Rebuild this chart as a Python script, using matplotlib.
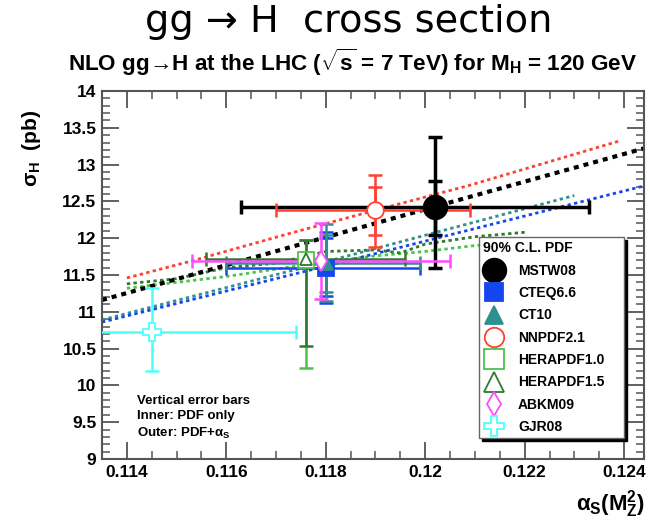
import numpy as np
import matplotlib
matplotlib.use("Agg")
import matplotlib.pyplot as plt
from matplotlib.lines import Line2D
from matplotlib.ticker import MultipleLocator, FuncFormatter

plt.rcParams['font.family'] = ['Liberation Sans', 'DejaVu Sans']
plt.rcParams['font.weight'] = 'bold'
plt.rcParams['mathtext.fontset'] = 'custom'
plt.rcParams['mathtext.rm'] = 'Liberation Sans:bold'
plt.rcParams['mathtext.it'] = 'Liberation Sans:bold'
plt.rcParams['mathtext.bf'] = 'Liberation Sans:bold'

# ---------------- data ----------------
pdf_names = ['MSTW08', 'CTEQ6.6', 'CT10', 'NNPDF2.1', 'HERAPDF1.0', 'HERAPDF1.5', 'ABKM09', 'GJR08']
pdf_colors = ['#000000', '#1446f0', '#2f9090', '#ff4032', '#4cc44c', '#2e7a2e', '#ff4cff', '#4cffff']
pdf_markers = ['o', 's', '^', 'o', 's', '^', 'd', 'P']
pdf_filled = [True, True, True, False, False, False, False, False]

alphas_central = [0.1202, 0.1180, 0.1180, 0.1190, 0.1176, 0.1176, 0.1179, 0.1145]
sigma_central = [12.42, 11.60, 11.66, 12.38, 11.70, 11.72, 11.69, 10.72]
alphas_lo = [0.1163, 0.1160, 0.1160, 0.1170, np.nan, 0.1156, 0.1153, 0.1116]
alphas_hi = [0.1233, 0.1199, 0.1199, 0.1209, np.nan, 0.1196, 0.1205, 0.1174]
sigma_outer_lo = [11.60, 11.12, 11.15, 11.88, 10.24, 10.53, 11.17, 10.19]
sigma_outer_hi = [13.37, 12.08, 12.19, 12.86, 11.97, 11.98, 12.20, 11.33]
sigma_inner_lo = [12.04, 11.22, 11.27, 12.05, np.nan, np.nan, np.nan, np.nan]
sigma_inner_hi = [12.78, 12.00, 12.05, 12.69, np.nan, np.nan, np.nan, np.nan]

# dotted curves: sigma vs alpha_s for each PDF
curve_mstw_a = [0.1135, 0.1202, 0.1244]
curve_mstw_s = [11.16, 12.43, 13.22]
curve_cteq_a = [0.1135, 0.1180, 0.1244]
curve_cteq_s = [10.86, 11.62, 12.71]
curve_ct10_a = [0.1135, 0.1180, 0.1230]
curve_ct10_s = [10.89, 11.68, 12.58]
curve_nnpdf_a = [0.1140, 0.1153, 0.1173, 0.1190, 0.1209, 0.1239]
curve_nnpdf_s = [11.46, 11.69, 12.07, 12.38, 12.72, 13.32]
curve_hera15_a = [0.1140, 0.1150, 0.1160, 0.1170, 0.1180, 0.1190, 0.1195, 0.1200, 0.1210, 0.1220]
curve_hera15_s = [11.38, 11.45, 11.60, 11.66, 11.82, 11.84, 11.80, 11.92, 12.02, 12.08]
curve_hera10_a = [0.1140, 0.1150, 0.1160, 0.1170, 0.1180, 0.1190, 0.1200, 0.1210, 0.1220]
curve_hera10_s = [11.32, 11.40, 11.48, 11.58, 11.68, 11.76, 11.82, 11.90, 11.95]

curves = [
    (curve_nnpdf_a, curve_nnpdf_s, '#ff4032', 2.0),
    (curve_hera10_a, curve_hera10_s, '#4cc44c', 2.0),
    (curve_hera15_a, curve_hera15_s, '#2e7a2e', 2.0),
    (curve_ct10_a, curve_ct10_s, '#2f9090', 2.0),
    (curve_cteq_a, curve_cteq_s, '#1446f0', 2.0),
    (curve_mstw_a, curve_mstw_s, '#000000', 3.0),
]

# ---------------- figure ----------------
fig = plt.figure(figsize=(6.5, 5.28), dpi=100)
ax = fig.add_axes([102/650, 1-459/528, (644-102)/650, (459-91)/528])

for a, s, c, lw in curves:
    ax.plot(a, s, color=c, lw=lw, ls=(0, (1.2, 1.2)), zorder=2)

msizes = [17, 11, 10, 12, 11, 8, 10, 13]
for i, name in enumerate(pdf_names):
    c = pdf_colors[i]
    lw = 2.5 if i == 0 else 1.8
    x0, y0 = alphas_central[i], sigma_central[i]
    if not np.isnan(alphas_lo[i]):
        ax.errorbar([x0], [y0], xerr=[[x0 - alphas_lo[i]], [alphas_hi[i] - x0]],
                    fmt='none', ecolor=c, elinewidth=lw, capsize=5, capthick=lw, zorder=3)
    ax.errorbar([x0], [y0], yerr=[[y0 - sigma_outer_lo[i]], [sigma_outer_hi[i] - y0]],
                fmt='none', ecolor=c, elinewidth=lw, capsize=5, capthick=lw, zorder=3)
    if not np.isnan(sigma_inner_lo[i]):
        ax.errorbar([x0], [y0], yerr=[[y0 - sigma_inner_lo[i]], [sigma_inner_hi[i] - y0]],
                    fmt='none', ecolor=c, elinewidth=lw, capsize=5, capthick=lw, zorder=3)
    fc = c if pdf_filled[i] else 'white'
    ax.plot([x0], [y0], marker=pdf_markers[i], ms=msizes[i], mfc=fc, mec=c,
            mew=1.3, ls='none', zorder=4)

ax.set_xlim(0.1135, 0.1244)
ax.set_ylim(9, 14)
ax.xaxis.set_major_locator(MultipleLocator(0.002))
ax.xaxis.set_minor_locator(MultipleLocator(0.0005))
ax.yaxis.set_major_locator(MultipleLocator(0.5))
ax.yaxis.set_minor_locator(MultipleLocator(0.1))
ax.xaxis.set_major_formatter(FuncFormatter(lambda v, p: ('%.3f' % v).rstrip('0')))
ax.yaxis.set_major_formatter(FuncFormatter(lambda v, p: ('%g' % v)))
ax.tick_params(which='major', direction='in', top=True, right=True, length=12,
               width=1.3, color='#555555', labelsize=12.5, pad=4)
ax.tick_params(which='minor', direction='in', top=True, right=True, length=6,
               width=1.1, color='#555555')
for lab in ax.get_xticklabels() + ax.get_yticklabels():
    lab.set_fontweight('bold')
for sp in ax.spines.values():
    sp.set_color('#555555')
    sp.set_linewidth(1.5)

# legend
handles = []
leg_ms = [17, 13, 13, 14, 14, 14, 12, 15]
for i, name in enumerate(pdf_names):
    fc = pdf_colors[i] if pdf_filled[i] else 'white'
    handles.append(Line2D([], [], ls='none', marker=pdf_markers[i], ms=leg_ms[i],
                          mfc=fc, mec=pdf_colors[i], mew=1.3, label=name))
leg = ax.legend(handles=handles, loc='upper left',
                bbox_to_anchor=(0.6956, 0.0707, 0.267, 0.532), mode='expand',
                title='90% C.L. PDF', title_fontproperties={'weight': 'bold', 'size': 10},
                prop={'weight': 'bold', 'size': 10}, frameon=True, fancybox=False,
                edgecolor='#666666', framealpha=1, borderpad=0.3, labelspacing=0.6,
                handletextpad=0.9, handlelength=1.6, borderaxespad=0,
                shadow={'color': 'black', 'alpha': 1.0})
leg._legend_box.align = 'left'
leg.get_frame().set_linewidth(1.0)
leg.set_zorder(10)

# annotation text
ax.text(0.0645, 0.175, 'Vertical error bars\nInner: PDF only\nOuter: PDF+$\\alpha_{S}$',
        transform=ax.transAxes, fontsize=9.5, fontweight='bold', va='top', ha='left',
        linespacing=1.35, zorder=5)

# titles and labels
fig.text(0.537, 0.958, 'gg \u2192 H  cross section', ha='center', va='center',
         fontsize=27.5, fontweight='normal', family=['DejaVu Sans'])
fig.text(0.543, 0.882, 'NLO gg\u2192H at the LHC ($\\sqrt{s}$ = 7 TeV) for M$_{H}$ = 120 GeV',
         ha='center', va='center', fontsize=16.2, fontweight='bold')
fig.text(0.048, 0.72, '$\\sigma_{H}$  (pb)', rotation=90, ha='center', va='center',
         fontsize=15, fontweight='bold')
fig.text(0.992, 0.045, '$\\alpha_{S}$(M$_{Z}^{2}$)', ha='right', va='center',
         fontsize=16, fontweight='bold')

fig.savefig('out.png', dpi=100)
